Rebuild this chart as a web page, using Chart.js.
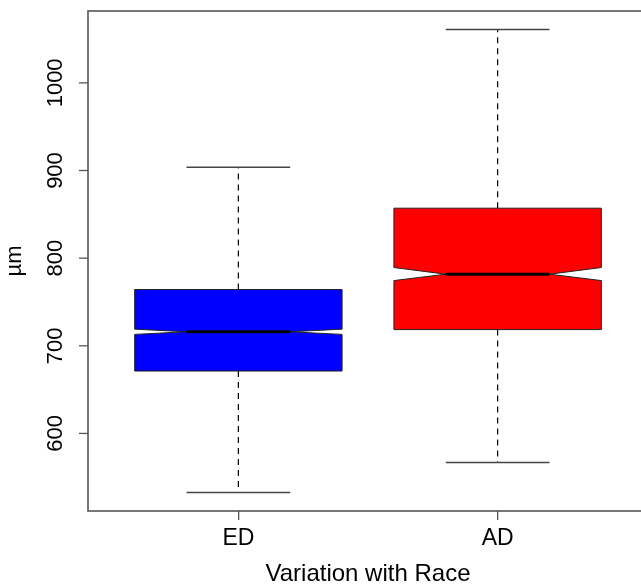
<!DOCTYPE html>
<html>
<head>
<meta charset="utf-8">
<script src="https://cdn.jsdelivr.net/npm/chart.js@4.4.1/dist/chart.umd.min.js"></script>
<style>
    html, body { margin: 0; padding: 0; background: #fff; overflow: hidden; }
    #wrap { position: absolute; left: 0; top: 0; width: 648px; height: 586px; }
</style>
</head>
<body>
<div id="wrap"><canvas id="boxChart" width="648" height="586"></canvas></div>
<script>
// Data
const groups = ['ED', 'AD'];
const positions = [1, 2];
const whiskerLow = [532.6, 566.7];
const q1 = [671.2, 718.5];
const medians = [716.0, 781.7];
const q3 = [764.2, 857.0];
const whiskerHigh = [903.6, 1061.0];
const notchLow = [713.0, 774.4];
const notchHigh = [719.0, 789.3];
const boxColors = ['#0000ff', '#ff0000'];
const yTicks = [600, 700, 800, 900, 1000];

const FONT = '"Liberation Sans", Arial, sans-serif';
const BOX_HALF = 0.4;     // R boxwex 0.8
const STAPLE_HALF = 0.2;

// R style notched boxplot drawn through the chart scales
const boxPlotPlugin = {
    id: 'boxPlot',
    afterDatasetsDraw(chart) {
        const { ctx, scales: { x, y } } = chart;
        ctx.save();
        positions.forEach((pos, i) => {
            const cx = x.getPixelForValue(pos);
            const left = x.getPixelForValue(pos - BOX_HALF);
            const right = x.getPixelForValue(pos + BOX_HALF);
            const inL = x.getPixelForValue(pos - BOX_HALF / 2);
            const inR = x.getPixelForValue(pos + BOX_HALF / 2);
            const sL = x.getPixelForValue(pos - STAPLE_HALF);
            const sR = x.getPixelForValue(pos + STAPLE_HALF);
            const yQ1 = y.getPixelForValue(q1[i]);
            const yQ3 = y.getPixelForValue(q3[i]);
            const yMed = y.getPixelForValue(medians[i]);
            const yNL = y.getPixelForValue(notchLow[i]);
            const yNH = y.getPixelForValue(notchHigh[i]);
            const yLo = y.getPixelForValue(whiskerLow[i]);
            const yHi = y.getPixelForValue(whiskerHigh[i]);

            // whiskers (dashed)
            ctx.strokeStyle = '#000';
            ctx.lineWidth = 1.2;
            ctx.setLineDash([6, 5]);
            ctx.beginPath();
            ctx.moveTo(cx, yQ3);
            ctx.lineTo(cx, yHi);
            ctx.moveTo(cx, yQ1);
            ctx.lineTo(cx, yLo);
            ctx.stroke();
            ctx.setLineDash([]);

            // staples
            ctx.strokeStyle = '#444';
            ctx.lineWidth = 1.5;
            ctx.beginPath();
            ctx.moveTo(sL, yHi);
            ctx.lineTo(sR, yHi);
            ctx.moveTo(sL, yLo);
            ctx.lineTo(sR, yLo);
            ctx.stroke();

            // notched box
            ctx.beginPath();
            ctx.moveTo(left, yQ1);
            ctx.lineTo(left, yNL);
            ctx.lineTo(inL, yMed);
            ctx.lineTo(left, yNH);
            ctx.lineTo(left, yQ3);
            ctx.lineTo(right, yQ3);
            ctx.lineTo(right, yNH);
            ctx.lineTo(inR, yMed);
            ctx.lineTo(right, yNL);
            ctx.lineTo(right, yQ1);
            ctx.closePath();
            ctx.fillStyle = boxColors[i];
            ctx.fill();
            ctx.strokeStyle = '#222';
            ctx.lineWidth = 1;
            ctx.stroke();

            // median
            ctx.strokeStyle = '#000';
            ctx.lineWidth = 3;
            ctx.beginPath();
            ctx.moveTo(inL, yMed);
            ctx.lineTo(inR, yMed);
            ctx.stroke();
        });
        ctx.restore();
    },
    afterDraw(chart) {
        const { ctx, chartArea: a, scales: { y } } = chart;
        ctx.save();
        // frame
        ctx.strokeStyle = '#555';
        ctx.lineWidth = 1.6;
        ctx.strokeRect(a.left, a.top, a.right - a.left, a.bottom - a.top);

        // y ticks and rotated labels
        ctx.fillStyle = '#000';
        ctx.font = `22px ${FONT}`;
        ctx.textAlign = 'center';
        ctx.textBaseline = 'middle';
        yTicks.forEach(v => {
            const py = y.getPixelForValue(v);
            ctx.strokeStyle = '#555';
            ctx.lineWidth = 1.3;
            ctx.beginPath();
            ctx.moveTo(a.left - 9, py);
            ctx.lineTo(a.left, py);
            ctx.stroke();
            ctx.save();
            ctx.translate(56, py);
            ctx.rotate(-Math.PI / 2);
            ctx.fillText(String(v), 0, 0);
            ctx.restore();
        });

        // y title
        ctx.save();
        ctx.translate(15, (a.top + a.bottom) / 2);
        ctx.rotate(-Math.PI / 2);
        ctx.fillText('\u00b5m', 0, 0);
        ctx.restore();

        // x title, centred on the plot region
        ctx.font = `24px ${FONT}`;
        ctx.fillText('Variation with Race', (a.left + a.right) / 2, 574);
        ctx.restore();
    }
};

new Chart(document.getElementById('boxChart'), {
    type: 'scatter',
    data: {
        datasets: [{
            label: 'median',
            data: positions.map((p, i) => ({ x: p, y: medians[i] })),
            pointRadius: 0,
            showLine: false
        }]
    },
    options: {
        responsive: false,
        animation: false,
        layout: { padding: { top: 11, right: 0, left: 0, bottom: 0 } },
        plugins: {
            legend: { display: false },
            tooltip: { enabled: false }
        },
        scales: {
            x: {
                type: 'linear',
                min: 0.42,
                max: 2.58,
                afterBuildTicks: (scale) => {
                    scale.ticks = positions.map(v => ({ value: v }));
                },
                afterFit: (scale) => { scale.height = 75; },
                grid: {
                    drawOnChartArea: false,
                    drawTicks: true,
                    tickLength: 9,
                    tickColor: '#555',
                    lineWidth: 1.3
                },
                border: { display: false },
                ticks: {
                    autoSkip: false,
                    maxRotation: 0,
                    padding: 5,
                    color: '#000',
                    font: { family: FONT, size: 23 },
                    callback: (v) => groups[positions.indexOf(v)] || ''
                }
            },
            y: {
                type: 'linear',
                min: 511.5,
                max: 1082,
                afterBuildTicks: (scale) => {
                    scale.ticks = yTicks.map(v => ({ value: v }));
                },
                afterFit: (scale) => { scale.width = 88; },
                grid: { display: false },
                border: { display: false },
                ticks: { display: false }
            }
        }
    },
    plugins: [boxPlotPlugin]
});
</script>
</body>
</html>
